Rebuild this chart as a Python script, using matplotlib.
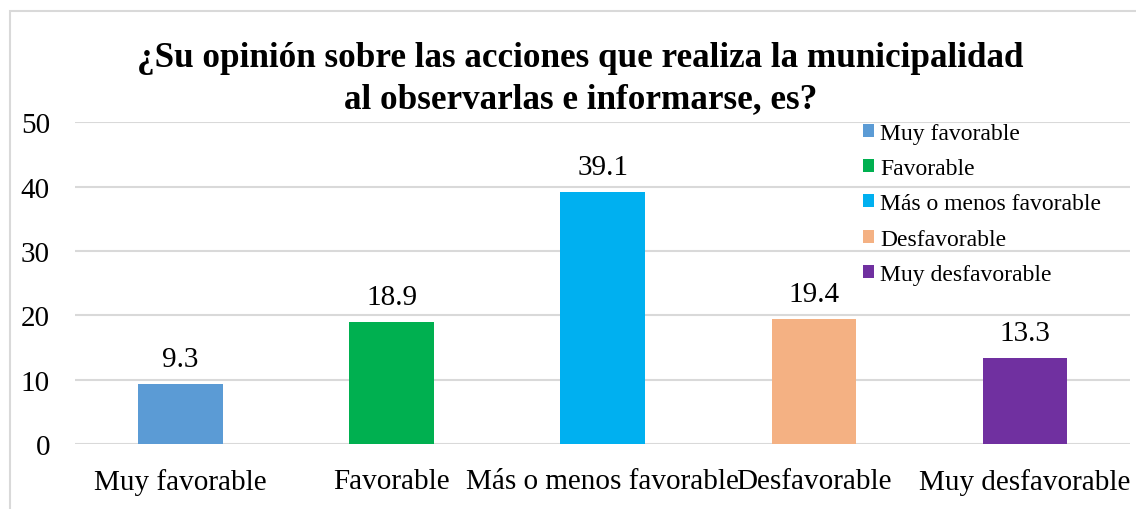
import matplotlib
matplotlib.use("Agg")
import matplotlib.pyplot as plt
from matplotlib.patches import Rectangle

# datos de la gráfica
categorias = ["Muy favorable", "Favorable", "Más o menos favorable", "Desfavorable", "Muy desfavorable"]
porcentajes = [9.3, 18.9, 39.1, 19.4, 13.3]
colores = ["#5B9BD5", "#00B050", "#00B0F0", "#F4B183", "#7030A0"]
titulo = "¿Su opinión sobre las acciones que realiza la municipalidad\nal observarlas e informarse, es?"
yticks = [0, 10, 20, 30, 40, 50]

plt.rcParams['font.family'] = ['Liberation Serif', 'DejaVu Serif']

fig = plt.figure(figsize=(11.36, 5.10), dpi=100)
ax = fig.add_axes([0.066, 0.1275, 0.929, 0.631])

# marco del gráfico
fig.patches.append(Rectangle((10 / 1136, -0.1), 1.2, 1 - 12 / 510 + 0.1,
                             transform=fig.transFigure, fill=False,
                             edgecolor="#d9d9d9", linewidth=1.5))

x = range(len(categorias))
for i, (cat, val, col) in enumerate(zip(categorias, porcentajes, colores)):
    ax.bar(i, val, width=0.4, color=col, label=cat, zorder=3)
    ax.text(i, val + 1.9, f"{val:.1f}", ha="center", va="bottom", fontsize=21, color="#000000")

ax.set_xlim(-0.5, len(categorias) - 0.5)
ax.set_ylim(0, 50)
ax.set_yticks(yticks)
ax.set_xticks(list(x))
ax.set_xticklabels(categorias, fontsize=21)
ax.tick_params(axis="y", labelsize=21, length=0, pad=18)
ax.tick_params(axis="x", length=0, pad=17)
ax.grid(axis="y", color="#d9d9d9", linewidth=1.5, zorder=0)
ax.set_axisbelow(True)
for s in ax.spines.values():
    s.set_visible(False)

fig.text(0.511, 0.918, titulo, ha="center", va="top", fontsize=25.3, fontweight="bold", linespacing=1.32)

ax.legend(loc="upper left", bbox_to_anchor=(863 / 1136, 1 - 124 / 510),
          bbox_transform=fig.transFigure, frameon=False, fontsize=17,
          handlelength=0.47, handleheight=0.47, handletextpad=0.25, labelspacing=0.6,
          borderaxespad=0, borderpad=0)

fig.savefig("out.png", dpi=100)
